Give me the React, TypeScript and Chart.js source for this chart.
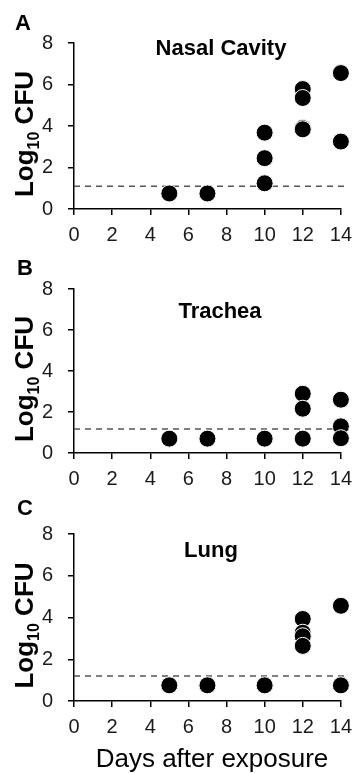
import React, { useEffect, useRef } from "react";
import { Chart, registerables } from "chart.js";

Chart.register(...registerables);

const FONT = "'Liberation Sans', Arial, Helvetica, sans-serif";

// Axis ticks
const xTickValues = [0, 2, 4, 6, 8, 10, 12, 14];
const yTickValues = [0, 2, 4, 6, 8];

// Panel A – Nasal Cavity
const nasalDays = [5, 7, 10, 10, 10, 12, 12, 12, 12, 14, 14];
const nasalLog = [0.75, 0.75, 3.68, 2.45, 1.24, 5.78, 5.35, 3.9, 3.84, 6.55, 3.25];
const nasalLimit = 1.1;

// Panel B – Trachea
const tracheaDays = [5, 7, 10, 12, 12, 12, 14, 14, 14];
const tracheaLog = [0.7, 0.7, 0.7, 2.89, 2.16, 0.7, 2.6, 1.3, 0.72];
const tracheaLimit = 1.17;

// Panel C – Lung
const lungDays = [5, 7, 10, 12, 12, 12, 12, 14, 14];
const lungLog = [0.75, 0.75, 0.75, 3.93, 3.27, 3.1, 2.64, 4.56, 0.75];
const lungLimit = 1.2;

// Detection limit line extent (days)
const limitDays = [0, 14.3];

const xTitle = "Days after exposure";

type PanelCfg = {
  letter: string;
  title: string;
  days: number[];
  values: number[];
  limit: number;
  top: number;
  height: number;
  padTop: number;
  xAxisHeight: number;
  letterX: number;
  letterY: number;
  titleX: number;
  titleY: number;
  showXTitle: boolean;
};

const panels: PanelCfg[] = [
  {
    letter: "A", title: "Nasal Cavity", days: nasalDays, values: nasalLog, limit: nasalLimit,
    top: 0, height: 250, padTop: 43, xAxisHeight: 41,
    letterX: 15, letterY: 30, titleX: 221, titleY: 55, showXTitle: false,
  },
  {
    letter: "B", title: "Trachea", days: tracheaDays, values: tracheaLog, limit: tracheaLimit,
    top: 250, height: 250, padTop: 39, xAxisHeight: 47,
    letterX: 17, letterY: 25, titleX: 220, titleY: 68, showXTitle: false,
  },
  {
    letter: "C", title: "Lung", days: lungDays, values: lungLog, limit: lungLimit,
    top: 500, height: 273, padTop: 34, xAxisHeight: 72,
    letterX: 17, letterY: 15, titleX: 211, titleY: 57, showXTitle: true,
  },
];

function Panel({ cfg }: { cfg: PanelCfg }) {
  const ref = useRef<HTMLCanvasElement>(null);

  useEffect(() => {
    const textPlugin = {
      id: "panelText",
      afterDraw(chart: any) {
        const ctx = chart.ctx as CanvasRenderingContext2D;
        const area = chart.chartArea;
        ctx.save();
        ctx.fillStyle = "#000";
        ctx.textBaseline = "alphabetic";
        // panel letter
        ctx.font = `bold 22px ${FONT}`;
        ctx.textAlign = "left";
        ctx.fillText(cfg.letter, cfg.letterX, cfg.letterY);
        // panel title
        ctx.font = `bold 22px ${FONT}`;
        ctx.textAlign = "center";
        ctx.fillText(cfg.title, cfg.titleX, cfg.titleY);
        // y axis label: Log10 CFU with subscript
        const big = `bold 26px ${FONT}`;
        const small = `bold 16px ${FONT}`;
        ctx.font = big;
        const wLog = ctx.measureText("Log").width;
        const wCfu = ctx.measureText(" CFU").width;
        ctx.font = small;
        const wSub = ctx.measureText("10").width;
        const total = wLog + wSub + wCfu;
        const cy = (area.top + area.bottom) / 2 + 8;
        ctx.translate(33, cy);
        ctx.rotate(-Math.PI / 2);
        ctx.textAlign = "left";
        let x = -total / 2;
        ctx.font = big;
        ctx.fillText("Log", x, 0);
        x += wLog;
        ctx.font = small;
        ctx.fillText("10", x, 6);
        x += wSub;
        ctx.font = big;
        ctx.fillText(" CFU", x, 0);
        ctx.restore();
        if (cfg.showXTitle) {
          ctx.save();
          ctx.fillStyle = "#000";
          ctx.font = `26px ${FONT}`;
          ctx.textAlign = "center";
          ctx.textBaseline = "alphabetic";
          ctx.fillText(xTitle, 212, 267);
          ctx.restore();
        }
      },
    };

    const chart = new Chart(ref.current!, {
      type: "scatter",
      data: {
        datasets: [
          {
            type: "scatter",
            data: cfg.days.map((d, i) => ({ x: d, y: cfg.values[i] })),
            pointRadius: 8.5,
            pointHoverRadius: 8.5,
            pointBackgroundColor: "#000",
            pointBorderColor: "#fff",
            pointBorderWidth: 1,
            clip: false,
          } as any,
          {
            type: "line",
            data: limitDays.map((d) => ({ x: d, y: cfg.limit })),
            borderColor: "#555",
            borderWidth: 1.5,
            borderDash: [6, 5],
            pointRadius: 0,
            fill: false,
            clip: false,
          } as any,
        ],
      },
      options: {
        responsive: false,
        animation: false,
        devicePixelRatio: 1,
        layout: { padding: { top: cfg.padTop, right: 13, left: 0, bottom: 0 } },
        plugins: { legend: { display: false }, tooltip: { enabled: false } },
        scales: {
          x: {
            type: "linear",
            min: 0,
            max: 14,
            afterBuildTicks: (s: any) => {
              s.ticks = xTickValues.map((v) => ({ value: v }));
            },
            afterFit: (s: any) => {
              s.height = cfg.xAxisHeight;
            },
            border: { display: true, color: "#000", width: 1.5 },
            grid: { drawOnChartArea: false, drawTicks: true, tickLength: 6, color: "#000", lineWidth: 1.5 },
            ticks: { color: "#1a1a1a", font: { family: FONT, size: 20 }, padding: 8, maxRotation: 0, autoSkip: false },
          },
          y: {
            type: "linear",
            min: 0,
            max: 8,
            afterBuildTicks: (s: any) => {
              s.ticks = yTickValues.map((v) => ({ value: v }));
            },
            afterFit: (s: any) => {
              s.width = 74;
            },
            border: { display: true, color: "#000", width: 1.5 },
            grid: { drawOnChartArea: false, drawTicks: true, tickLength: 6, color: "#000", lineWidth: 1.5 },
            ticks: { color: "#1a1a1a", font: { family: FONT, size: 20 }, padding: 15 },
          },
        },
      },
      plugins: [textPlugin],
    } as any);
    return () => chart.destroy();
  }, [cfg]);

  return (
    <canvas
      ref={ref}
      width={360}
      height={cfg.height}
      style={{ position: "absolute", left: 0, top: cfg.top, width: 360, height: cfg.height, display: "block" }}
    />
  );
}

export default function App() {
  return (
    <div style={{ position: "absolute", left: 0, top: 0, width: 360, height: 773, background: "#fff" }}>
      {panels.map((p) => (
        <Panel key={p.letter} cfg={p} />
      ))}
    </div>
  );
}
